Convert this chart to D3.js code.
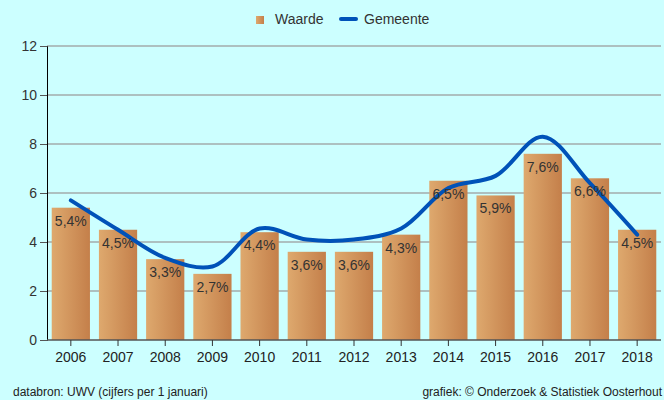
<!DOCTYPE html>
<html><head><meta charset="utf-8">
<script src="https://cdn.jsdelivr.net/npm/d3@7"></script>
<style>body{margin:0;background:#ccffff;}svg{display:block;font-family:"Liberation Sans",Arial,sans-serif;}</style>
</head><body>
<script>
const years = ["2006","2007","2008","2009","2010","2011","2012","2013","2014","2015","2016","2017","2018"];
const waarde = [5.4,4.5,3.3,2.7,4.4,3.6,3.6,4.3,6.5,5.9,7.6,6.6,4.5];
const gemeente = [5.7,4.5,3.35,3.0,4.55,4.1,4.1,4.55,6.2,6.7,8.3,6.4,4.3];
const yTicks = [0,2,4,6,8,10,12];
const W=664,H=400;
const svg=d3.select("body").append("svg").attr("width",W).attr("height",H);
svg.append("rect").attr("width",W).attr("height",H).attr("fill","#ccffff");
const defs=svg.append("defs");
const g=defs.append("linearGradient").attr("id","bg").attr("x1","0").attr("x2","1").attr("y1","0").attr("y2","0");
g.append("stop").attr("offset","0").attr("stop-color","#dea96e");
g.append("stop").attr("offset","1").attr("stop-color","#c47f4a");
const x=d3.scaleBand().domain(years).range([47,661]).paddingInner(0.19).paddingOuter(0.1);
const y=d3.scaleLinear().domain([0,12]).range([340,46]);
// gridlines
svg.append("g").selectAll("line").data(yTicks.filter(d=>d>0)).join("line")
 .attr("x1",47).attr("x2",661).attr("y1",d=>y(d)).attr("y2",d=>y(d))
 .attr("stroke","#a3abab").attr("stroke-width",1.5);
// y axis
const ya=svg.append("g").attr("transform","translate(47,0)").call(d3.axisLeft(y).tickValues(yTicks).tickSize(7).tickPadding(3));
ya.select(".domain").attr("stroke","#000").attr("stroke-width",1);
ya.selectAll(".tick line").attr("stroke","#555");
ya.selectAll("text").attr("font-size",14).attr("fill","#333").attr("font-family","Liberation Sans, Arial, sans-serif");
// bars
svg.append("g").selectAll("rect").data(waarde).join("rect")
 .attr("x",(d,i)=>x(years[i])).attr("width",x.bandwidth())
 .attr("y",d=>y(d)).attr("height",d=>y(0)-y(d)).attr("fill","url(#bg)");
// x axis
const xa=svg.append("g").attr("transform","translate(0,340)").call(d3.axisBottom(x).tickSize(6).tickPadding(6));
xa.select(".domain").attr("d","M47,0H661").attr("stroke","#555").attr("stroke-width",1.5);
xa.selectAll(".tick line").attr("stroke","#333");
xa.selectAll("text").attr("font-size",14).attr("fill","#222").attr("font-family","Liberation Sans, Arial, sans-serif");
// line
const line=d3.line().x((d,i)=>x(years[i])+x.bandwidth()/2).y(d=>y(d)).curve(d3.curveCatmullRom.alpha(0.5));
svg.append("path").datum(gemeente).attr("d",line).attr("fill","none").attr("stroke","#0052b8").attr("stroke-width",4).attr("stroke-linecap","round");
// labels
svg.append("g").selectAll("text").data(waarde).join("text")
 .attr("x",(d,i)=>x(years[i])+x.bandwidth()/2).attr("y",d=>y(d)+18)
 .attr("text-anchor","middle").attr("font-size",14).attr("fill","#333")
 .text(d=>d.toFixed(1).replace(".",",")+"%");
// legend
svg.append("rect").attr("x",256).attr("y",16).attr("width",8).attr("height",8).attr("fill","url(#bg)");
svg.append("text").attr("x",275).attr("y",24).attr("font-size",14).attr("fill","#333").text("Waarde");
svg.append("line").attr("x1",341).attr("x2",356).attr("y1",19).attr("y2",19).attr("stroke","#0052b8").attr("stroke-width",4).attr("stroke-linecap","round");
svg.append("text").attr("x",364).attr("y",24).attr("font-size",14).attr("fill","#333").text("Gemeente");
// footer
svg.append("text").attr("x",13).attr("y",396).attr("font-size",12).attr("fill","#222").text("databron: UWV (cijfers per 1 januari)");
svg.append("text").attr("x",662).attr("y",396).attr("text-anchor","end").attr("font-size",12).attr("fill","#222").text("grafiek: © Onderzoek & Statistiek Oosterhout");
</script>
</body></html>
